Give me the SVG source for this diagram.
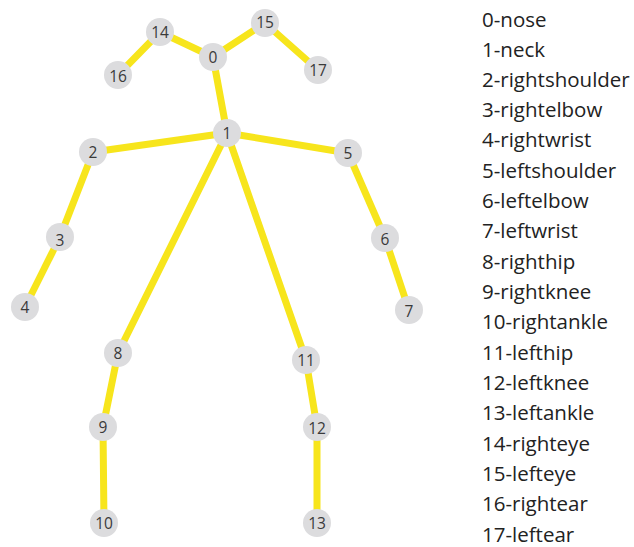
<svg xmlns="http://www.w3.org/2000/svg" width="634" height="547" viewBox="0 0 634 547">
<style>
.bone{stroke:#f7e51c;stroke-width:7;stroke-linecap:round;fill:none}
.joint circle{fill:#dcdcde}
.joint text{font-family:"Open Sans","Noto Sans",sans-serif;font-size:15.5px;fill:#3a3a3a;text-anchor:middle;dominant-baseline:central}
.legend text{font-family:"Open Sans","Noto Sans",sans-serif;font-size:20.5px;fill:#222}
</style>
<rect width="634" height="547" fill="#fff"/>
<g id="connectors">
<line class="bone" x1="213" y1="57" x2="227" y2="133"/>
<line class="bone" x1="213" y1="57" x2="160" y2="32"/>
<line class="bone" x1="160" y1="32" x2="118" y2="75"/>
<line class="bone" x1="213" y1="57" x2="265" y2="23"/>
<line class="bone" x1="265" y1="23" x2="318" y2="70"/>
<line class="bone" x1="227" y1="133" x2="93" y2="152"/>
<line class="bone" x1="93" y1="152" x2="60" y2="237"/>
<line class="bone" x1="60" y1="237" x2="25" y2="307"/>
<line class="bone" x1="227" y1="133" x2="348" y2="153"/>
<line class="bone" x1="348" y1="153" x2="385" y2="238"/>
<line class="bone" x1="385" y1="238" x2="409" y2="310"/>
<line class="bone" x1="227" y1="133" x2="118" y2="353"/>
<line class="bone" x1="118" y1="353" x2="103" y2="427"/>
<line class="bone" x1="103" y1="427" x2="104" y2="523"/>
<line class="bone" x1="227" y1="133" x2="306" y2="360"/>
<line class="bone" x1="306" y1="360" x2="317" y2="427"/>
<line class="bone" x1="317" y1="427" x2="317" y2="523"/>
</g>
<g id="n0" class="joint"><circle cx="213" cy="57" r="14"/><text x="213" y="57">0</text></g>
<g id="n1" class="joint"><circle cx="227" cy="133" r="14"/><text x="227" y="133">1</text></g>
<g id="n2" class="joint"><circle cx="93" cy="152" r="14"/><text x="93" y="152">2</text></g>
<g id="n3" class="joint"><circle cx="60" cy="237" r="14"/><text x="60" y="240">3</text></g>
<g id="n4" class="joint"><circle cx="25" cy="307" r="14"/><text x="25" y="307">4</text></g>
<g id="n5" class="joint"><circle cx="348" cy="153" r="14"/><text x="348" y="153">5</text></g>
<g id="n6" class="joint"><circle cx="385" cy="238" r="14"/><text x="385" y="239">6</text></g>
<g id="n7" class="joint"><circle cx="409" cy="310" r="14"/><text x="409" y="311">7</text></g>
<g id="n8" class="joint"><circle cx="118" cy="353" r="14"/><text x="118" y="353">8</text></g>
<g id="n9" class="joint"><circle cx="103" cy="427" r="14"/><text x="103" y="427">9</text></g>
<g id="n10" class="joint"><circle cx="104" cy="523" r="14"/><text x="104" y="523">10</text></g>
<g id="n11" class="joint"><circle cx="306" cy="360" r="14"/><text x="306" y="360">11</text></g>
<g id="n12" class="joint"><circle cx="317" cy="427" r="14"/><text x="317" y="428">12</text></g>
<g id="n13" class="joint"><circle cx="317" cy="523" r="14"/><text x="317" y="523">13</text></g>
<g id="n14" class="joint"><circle cx="160" cy="32" r="14"/><text x="160" y="32">14</text></g>
<g id="n15" class="joint"><circle cx="265" cy="23" r="14"/><text x="265" y="22">15</text></g>
<g id="n16" class="joint"><circle cx="118" cy="75" r="14"/><text x="118" y="76">16</text></g>
<g id="n17" class="joint"><circle cx="318" cy="70" r="14"/><text x="318" y="70">17</text></g>
<g id="legend" class="legend">
<text x="482" y="27">0-nose</text>
<text x="482" y="57">1-neck</text>
<text x="482" y="87">2-rightshoulder</text>
<text x="482" y="117">3-rightelbow</text>
<text x="482" y="147">4-rightwrist</text>
<text x="482" y="178">5-leftshoulder</text>
<text x="482" y="208">6-leftelbow</text>
<text x="482" y="238">7-leftwrist</text>
<text x="482" y="269">8-righthip</text>
<text x="482" y="299">9-rightknee</text>
<text x="482" y="329">10-rightankle</text>
<text x="482" y="360">11-lefthip</text>
<text x="482" y="390">12-leftknee</text>
<text x="482" y="420">13-leftankle</text>
<text x="482" y="451">14-righteye</text>
<text x="482" y="481">15-lefteye</text>
<text x="482" y="511">16-rightear</text>
<text x="482" y="542">17-leftear</text>
</g>
</svg>
